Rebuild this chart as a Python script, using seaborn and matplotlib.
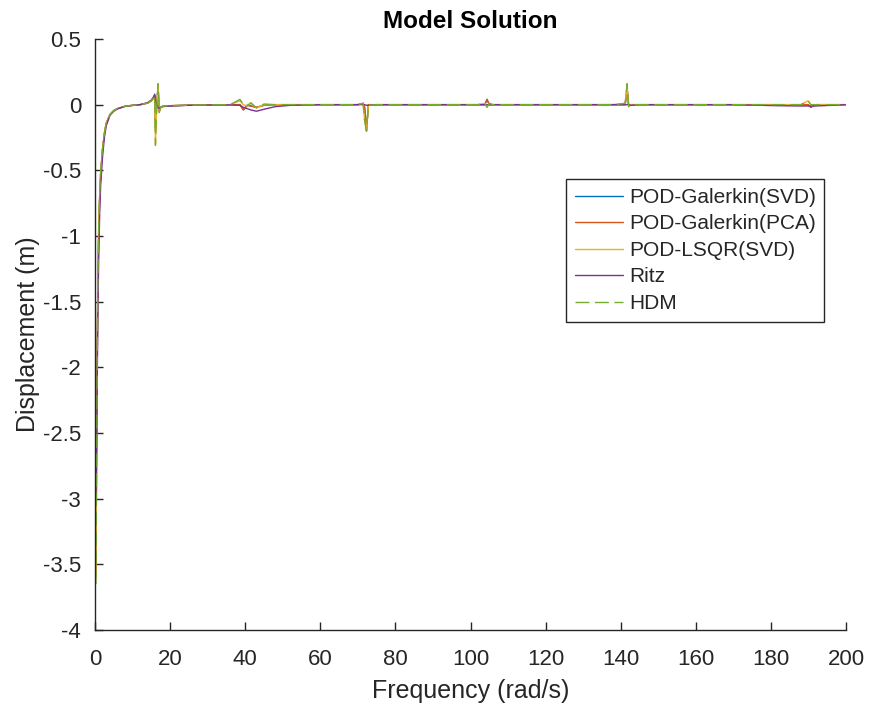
import matplotlib
matplotlib.use("Agg")
import matplotlib.pyplot as plt
import seaborn as sns
import pandas as pd

# Frequency grid (rad/s)
freq = [0.25, 0.5, 0.75, 1.0, 1.25, 1.5, 2.0, 2.5, 3.0, 4.0,
        5.0, 6.0, 8.0, 10.0, 12.0, 14.0, 15.0, 15.6, 15.9, 16.1,
        16.4, 16.8, 17.1, 17.5, 18.0, 20.0, 25.0, 30.0, 36.0, 38.6,
        39.5, 40.5, 41.5, 43.0, 45.0, 48.0, 52.0, 60.0, 70.0, 71.4,
        71.8, 72.3, 72.8, 75.0, 90.0, 102.0, 103.8, 104.4, 105.0, 106.0,
        120.0, 138.0, 141.2, 141.7, 142.1, 142.6, 145.0, 170.0, 182.0, 188.0,
        189.9, 190.6, 192.0, 196.0, 200.0]

# Displacement (m) for each reduced model and the full model
pod_galerkin_svd = [-3.55, -2.3, -1.4, -0.95, -0.7, -0.53, -0.34, -0.22, -0.14, -0.075,
                    -0.045, -0.03, -0.012, -0.005, 0.0, 0.012, 0.03, 0.05, 0.07, -0.18,
                    -0.02, 0.14, -0.05, -0.02, -0.012, -0.008, -0.004, -0.002, 0.0, 0.0,
                    -0.04, -0.005, -0.01, -0.02, -0.005, 0.0, 0.0, 0.0, 0.0, 0.01,
                    -0.02, -0.2, 0.0, 0.0, 0.0, 0.0, 0.0, 0.04, 0.0, 0.0,
                    0.0, 0.0, 0.0, 0.13, 0.0, 0.0, 0.0, 0.0, 0.0, 0.0,
                    0.0, -0.02, 0.0, 0.0, 0.0]
pod_galerkin_pca = [-3.55, -2.3, -1.4, -0.95, -0.7, -0.53, -0.34, -0.22, -0.14, -0.075,
                    -0.045, -0.03, -0.012, -0.005, 0.0, 0.012, 0.03, 0.05, 0.07, -0.18,
                    -0.02, 0.14, -0.05, -0.02, -0.012, -0.008, -0.004, -0.002, 0.0, 0.0,
                    -0.04, -0.005, -0.01, -0.02, -0.005, 0.0, 0.0, 0.0, 0.0, 0.01,
                    -0.02, -0.2, 0.0, 0.0, 0.0, 0.0, 0.0, 0.04, 0.0, 0.0,
                    0.0, 0.0, 0.0, 0.13, 0.0, 0.0, 0.0, 0.0, 0.0, 0.0,
                    0.0, -0.02, 0.0, 0.0, 0.0]
pod_lsqr_svd = [-3.6, -2.25, -1.35, -0.9, -0.68, -0.52, -0.34, -0.22, -0.14, -0.075,
                -0.045, -0.03, -0.012, -0.005, 0.0, 0.012, 0.03, 0.05, 0.07, -0.3,
                -0.04, 0.15, -0.06, -0.02, -0.012, -0.008, -0.004, -0.002, 0.0, 0.03,
                0.0, -0.01, 0.01, -0.025, 0.0, 0.0, 0.0, 0.0, 0.0, 0.01,
                -0.12, -0.2, -0.005, 0.0, 0.0, 0.0, 0.01, -0.02, 0.01, 0.0,
                0.0, 0.0, 0.01, 0.15, -0.015, 0.0, 0.0, 0.0, 0.0, 0.0,
                0.03, 0.0, 0.0, 0.0, 0.0]
ritz = [-3.0, -2.45, -1.6, -1.15, -0.82, -0.62, -0.4, -0.25, -0.16, -0.08,
        -0.05, -0.032, -0.013, -0.006, 0.0, 0.015, 0.035, 0.06, 0.08, 0.04,
        0.0, -0.02, -0.03, -0.02, -0.015, -0.01, -0.005, -0.003, -0.002, -0.005,
        -0.02, -0.03, -0.04, -0.05, -0.035, -0.015, -0.005, 0.0, 0.0, 0.0,
        0.0, -0.005, -0.005, 0.0, 0.0, 0.0, 0.0, 0.0, 0.0, 0.0,
        0.0, 0.0, 0.0, 0.0, 0.0, -0.005, 0.0, 0.0, -0.008, -0.01,
        -0.01, -0.01, -0.01, -0.005, 0.0]
hdm = [-3.65, -2.25, -1.35, -0.9, -0.68, -0.52, -0.34, -0.22, -0.14, -0.075,
       -0.045, -0.03, -0.012, -0.005, 0.0, 0.012, 0.03, 0.05, 0.07, -0.31,
       -0.04, 0.16, -0.06, -0.02, -0.012, -0.008, -0.004, -0.002, 0.0, 0.04,
       0.005, -0.01, 0.015, -0.025, 0.005, 0.0, 0.0, 0.0, 0.0, 0.01,
       -0.12, -0.2, -0.005, 0.0, 0.0, 0.0, 0.01, -0.02, 0.01, 0.0,
       0.0, 0.0, 0.01, 0.16, -0.015, 0.0, 0.0, 0.0, 0.0, 0.0,
       0.03, 0.0, 0.0, 0.0, 0.0]

methods = ["POD-Galerkin(SVD)", "POD-Galerkin(PCA)", "POD-LSQR(SVD)", "Ritz", "HDM"]
colors = ["#0072BD", "#D95319", "#EDB120", "#7E2F8E", "#77AC30"]

x_ticks = [0, 20, 40, 60, 80, 100, 120, 140, 160, 180, 200]
y_ticks = [0.5, 0, -0.5, -1, -1.5, -2, -2.5, -3, -3.5, -4]
y_tick_labels = ["0.5", "0", "-0.5", "-1", "-1.5", "-2", "-2.5", "-3", "-3.5", "-4"]

series = [pod_galerkin_svd, pod_galerkin_pca, pod_lsqr_svd, ritz, hdm]
df = pd.concat(
    [pd.DataFrame({"Frequency": freq, "Displacement": vals, "Method": name})
     for name, vals in zip(methods, series)],
    ignore_index=True,
)

sns.set_style("white")
plt.rcParams["font.family"] = ["Liberation Sans", "DejaVu Sans"]
plt.rcParams["axes.unicode_minus"] = False
plt.rcParams["xtick.direction"] = "in"
plt.rcParams["ytick.direction"] = "in"

ink = "#262626"
fig = plt.figure(figsize=(8.69, 7.10), dpi=100)
ax = fig.add_axes([95 / 869, 1 - 630 / 710, (846 - 95) / 869, (630 - 39) / 710])

sns.lineplot(
    data=df, x="Frequency", y="Displacement", hue="Method", style="Method",
    hue_order=methods, style_order=methods,
    palette=dict(zip(methods, colors)),
    dashes={m: "" for m in methods[:-1]} | {"HDM": (10, 4)},
    estimator=None, sort=False, linewidth=1.0, ax=ax,
)

ax.set_xlim(0, 200)
ax.set_ylim(-4, 0.5)
ax.set_xticks(x_ticks)
ax.set_xticklabels([str(t) for t in x_ticks])
ax.set_yticks(y_ticks)
ax.set_yticklabels(y_tick_labels)

for side in ("top", "right"):
    ax.spines[side].set_visible(False)
for side in ("left", "bottom"):
    ax.spines[side].set_color(ink)
    ax.spines[side].set_linewidth(1.0)
ax.tick_params(axis="both", which="major", direction="in", length=6, width=1.0,
               colors=ink, labelsize=16, left=True, bottom=True)
ax.tick_params(axis="x", pad=14)
ax.tick_params(axis="y", pad=10)

ax.set_xlabel("Frequency (rad/s)", fontsize=18, color=ink, labelpad=6)
ax.set_ylabel("Displacement (m)", fontsize=18, color=ink, labelpad=2)
ax.set_title("Model Solution", fontsize=17.5, fontweight="bold", color="black", pad=8)

leg = ax.legend(
    loc="upper left", bbox_to_anchor=(0.627, 0.763), fontsize=15,
    frameon=True, fancybox=False, edgecolor=ink, framealpha=1,
    handlelength=2.3, handletextpad=0.3, labelspacing=0.36,
    borderpad=0.42, borderaxespad=0.0,
)
leg.get_frame().set_linewidth(1.0)
for h in leg.get_lines():
    h.set_linewidth(1.0)

fig.savefig("out.png", dpi=100)
